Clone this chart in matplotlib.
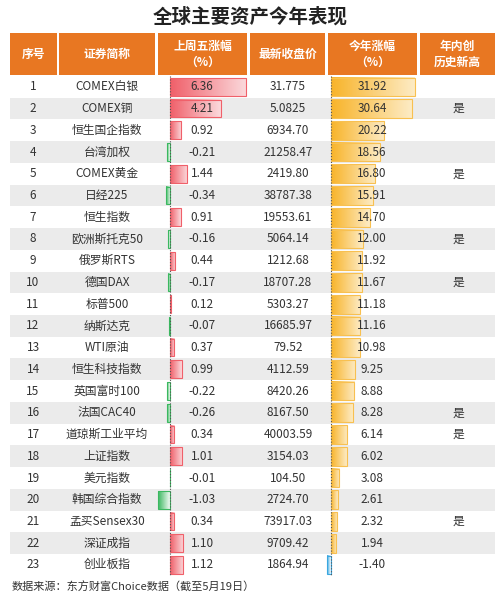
import matplotlib
matplotlib.use("Agg")
import matplotlib.pyplot as plt
import numpy as np
from matplotlib.colors import LinearSegmentedColormap

plt.rcParams['font.family'] = ['Noto Sans CJK SC', 'DejaVu Sans']

names = ["COMEX白银","COMEX铜","恒生国企指数","台湾加权","COMEX黄金","日经225","恒生指数","欧洲斯托克50",
         "俄罗斯RTS","德国DAX","标普500","纳斯达克","WTI原油","恒生科技指数","英国富时100","法国CAC40",
         "道琼斯工业平均","上证指数","美元指数","韩国综合指数","孟买Sensex30","深证成指","创业板指"]
week_chg = [6.36,4.21,0.92,-0.21,1.44,-0.34,0.91,-0.16,0.44,-0.17,0.12,-0.07,0.37,0.99,-0.22,-0.26,
            0.34,1.01,-0.01,-1.03,0.34,1.10,1.12]
close = ["31.775","5.0825","6934.70","21258.47","2419.80","38787.38","19553.61","5064.14","1212.68",
         "18707.28","5303.27","16685.97","79.52","4112.59","8420.26","8167.50","40003.59","3154.03",
         "104.50","2724.70","73917.03","9709.42","1864.94"]
ytd_chg = [31.92,30.64,20.22,18.56,16.80,15.91,14.70,12.00,11.92,11.67,11.18,11.16,10.98,9.25,8.88,
           8.28,6.14,6.02,3.08,2.61,2.32,1.94,-1.40]
new_high = ["","是","","","是","","","是","","是","","","","","","是","是","","","","是","",""]
headers = ["序号","证券简称","上周五涨幅\n（%）","最新收盘价","今年涨幅\n（%）","年内创\n历史新高"]

W, H = 500, 607
fig = plt.figure(figsize=(W/100, H/100), dpi=100)
ax = fig.add_axes([0, 0, 1, 1])
ax.set_xlim(0, W); ax.set_ylim(H, 0); ax.axis('off')

cols = [(10, 57), (59, 155), (158, 247), (250, 325), (328, 417), (420, 495)]
orange = '#E87722'
ax.text(250, 17, "全球主要资产今年表现", ha='center', va='center', fontsize=14, fontweight='bold', color='#222222')
for (x0, x1), h in zip(cols, headers):
    ax.add_patch(plt.Rectangle((x0, 33), x1 - x0, 42, color=orange, lw=0))
    ax.text((x0 + x1) / 2, 54, h, ha='center', va='center', color='white', fontsize=8.5,
            fontweight='bold', linespacing=1.3)

top, rh = 76, 21.73
n = len(names)
for i in range(n):
    y = top + i * rh
    if i % 2 == 1:
        ax.add_patch(plt.Rectangle((10, y), 485, rh, color='#EBEBEB', lw=0, zorder=0))

def gbar(x0, x1, y0, y1, c1, c2, ec):
    if x1 < x0:
        x0, x1 = x1, x0
        c1, c2 = c2, c1
    cm = LinearSegmentedColormap.from_list('g', [c1, c2])
    ax.imshow(np.linspace(0, 1, 64)[None, :], cmap=cm, extent=(x0, x1, y1, y0), aspect='auto', zorder=2)
    ax.add_patch(plt.Rectangle((x0, y0), x1 - x0, y1 - y0, fill=False, ec=ec, lw=0.8, zorder=3))

z1, s1 = 170, 12.0
z2, s2 = 331, 2.63
for i in range(n):
    y = top + i * rh
    yc = y + rh / 2
    w = week_chg[i]
    if w >= 0:
        gbar(z1, z1 + w * s1, y + 2, y + rh - 2, '#F0606A', '#FBD9DC', '#F0606A')
    else:
        gbar(z1, z1 + w * s1, y + 2, y + rh - 2, '#FFFFFF', '#3BB860', '#3BB860')
    v = ytd_chg[i]
    if v >= 0:
        gbar(z2, z2 + v * s2, y + 1.5, y + rh - 1.5, '#F8B42A', '#FDEBC4', '#F8C050')
    else:
        gbar(z2, z2 + v * s2, y + 1.5, y + rh - 1.5, '#FFFFFF', '#3AA7E0', '#3AA7E0')
    fs = 8.5
    ax.text(33, yc, str(i + 1), ha='center', va='center', fontsize=fs, color='#333333', zorder=5)
    ax.text(107, yc, names[i], ha='center', va='center', fontsize=fs, color='#333333', zorder=5)
    ax.text(202, yc, f"{w:.2f}", ha='center', va='center', fontsize=fs, color='#333333', zorder=5)
    ax.text(288, yc, close[i], ha='center', va='center', fontsize=fs, color='#333333', zorder=5)
    ax.text(372, yc, f"{v:.2f}", ha='center', va='center', fontsize=fs, color='#333333', zorder=5)
    ax.text(458, yc, new_high[i], ha='center', va='center', fontsize=fs, color='#333333', zorder=5)

ybot = top + n * rh
ax.plot([z1, z1], [top, ybot], ls=':', color='#555555', lw=0.8, zorder=4)
ax.plot([z2, z2], [top, ybot], ls=':', color='#555555', lw=0.8, zorder=4)
ax.set_xlim(0, W); ax.set_ylim(H, 0)
ax.text(12, 587, "数据来源：东方财富Choice数据（截至5月19日）", ha='left', va='center', fontsize=8, color='#333333')
fig.savefig("out.png", dpi=100)
